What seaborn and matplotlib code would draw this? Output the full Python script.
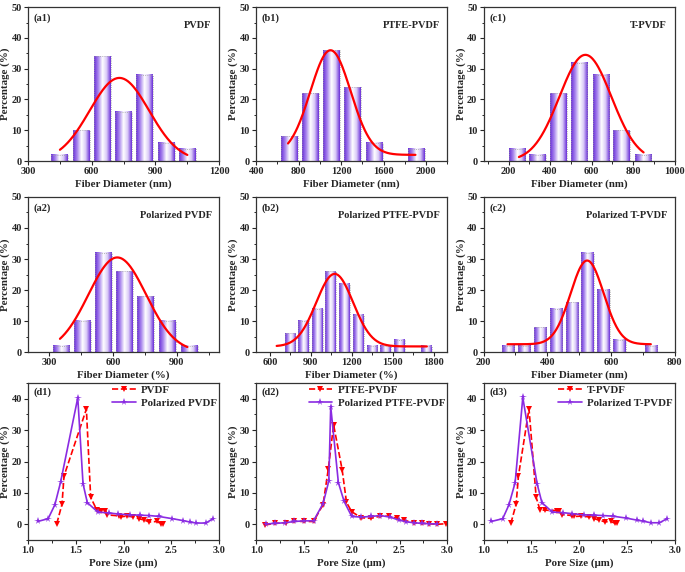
import numpy as np
import pandas as pd
import matplotlib
matplotlib.use("Agg")
import matplotlib.pyplot as plt
from matplotlib.colors import LinearSegmentedColormap
from matplotlib.ticker import AutoMinorLocator
import seaborn as sns

# ---- fiber diameter histograms (bin centre, percentage) ----
a1_x = [450, 550, 650, 750, 850, 950, 1050]
a1_y = [2, 10, 34, 16, 28, 6, 4]
b1_x = [710, 910, 1110, 1310, 1510, 1910]
b1_y = [8, 22, 36, 24, 6, 4]
c1_x = [240, 340, 440, 540, 645, 745, 848]
c1_y = [4, 2, 22, 32, 28, 10, 2]
a2_x = [355, 455, 555, 655, 755, 855, 960]
a2_y = [2, 10, 32, 26, 18, 10, 2]
b2_x = [748, 847, 947, 1047, 1148, 1247, 1348, 1448, 1548, 1748]
b2_y = [6, 10, 14, 26, 22, 12, 2, 2, 4, 2]
c2_x = [277, 327, 377, 427, 477, 526, 576, 626, 726]
c2_y = [2, 2, 8, 14, 16, 32, 20, 4, 2]

# gauss fit: (mu, sigma, amplitude, offset, x start, x end)
a1_fit = (730, 140, 27, 0, 450, 1050)
b1_fit = (1100, 190, 34, 2, 700, 1900)
c1_fit = (570, 125, 34.5, 0, 250, 850)
a2_fit = (620, 136, 30.5, 0, 350, 950)
b2_fit = (1075, 135, 23.4, 1.8, 650, 1750)
c2_fit = (525, 52, 27, 2.5, 275, 725)

# ---- pore size distributions ----
d1_red_x = [1.30, 1.355, 1.376, 1.61, 1.655, 1.72, 1.76, 1.81, 1.83, 1.95, 1.97, 2.03, 2.10, 2.16, 2.21, 2.27, 2.35, 2.39, 2.41]
d1_red_y = [0.2, 6.4, 15.4, 36.7, 8.6, 4.5, 4.4, 4.4, 3.0, 2.7, 2.4, 2.6, 2.4, 1.8, 1.4, 0.75, 0.9, 0.2, 0.2]
d1_pur_x = [1.10, 1.21, 1.28, 1.34, 1.52, 1.575, 1.62, 1.73, 1.85, 1.94, 2.07, 2.17, 2.27, 2.37, 2.51, 2.62, 2.69, 2.76, 2.86, 2.93]
d1_pur_y = [0.9, 1.8, 6.2, 13.4, 40.3, 12.9, 6.9, 3.9, 3.6, 3.3, 3.0, 2.9, 2.8, 2.5, 1.8, 1.2, 0.75, 0.4, 0.4, 1.7]

d2_red_x = [1.09, 1.20, 1.31, 1.40, 1.50, 1.60, 1.70, 1.755, 1.81, 1.90, 1.945, 2.0, 2.10, 2.20, 2.30, 2.39, 2.47, 2.55, 2.65, 2.73, 2.81, 2.89, 2.99]
d2_red_y = [-0.2, 0.3, 0.5, 1.0, 0.9, 0.9, 6.3, 17.7, 31.7, 17.3, 7.0, 4.0, 2.1, 1.9, 2.6, 2.6, 1.9, 1.3, 0.5, 0.3, 0.2, 0.0, 0.2]
d2_pur_x = [1.10, 1.20, 1.30, 1.40, 1.50, 1.60, 1.70, 1.76, 1.78, 1.86, 1.92, 2.0, 2.10, 2.20, 2.30, 2.40, 2.49, 2.57, 2.65, 2.73, 2.81, 2.89]
d2_pur_y = [0.1, 0.3, 0.5, 0.9, 1.1, 1.1, 6.6, 13.8, 37.5, 13.3, 7.3, 2.5, 2.3, 2.5, 2.8, 2.3, 1.4, 0.8, 0.5, 0.3, 0.2, 0.1]

d3_red_x = [1.285, 1.34, 1.365, 1.475, 1.55, 1.59, 1.64, 1.77, 1.79, 1.82, 1.93, 1.95, 2.02, 2.10, 2.16, 2.21, 2.27, 2.33, 2.38, 2.40]
d3_red_y = [0.3, 6.4, 15.5, 36.8, 8.6, 4.6, 4.5, 4.4, 4.3, 3.1, 2.8, 2.5, 2.6, 2.4, 1.8, 1.3, 0.8, 0.9, 0.3, 0.3]
d3_pur_x = [1.08, 1.20, 1.265, 1.33, 1.41, 1.56, 1.61, 1.72, 1.83, 1.93, 2.05, 2.16, 2.25, 2.35, 2.49, 2.61, 2.67, 2.75, 2.84, 2.92]
d3_pur_y = [0.9, 1.8, 6.2, 13.3, 40.4, 12.9, 6.9, 3.9, 3.7, 3.4, 3.0, 2.9, 2.8, 2.6, 2.0, 1.3, 1.0, 0.5, 0.5, 1.8]

sns.set_style("ticks")
plt.rcParams["font.family"] = ["Liberation Serif", "DejaVu Serif"]
plt.rcParams["font.weight"] = "bold"
plt.rcParams["axes.labelweight"] = "bold"
plt.rcParams["axes.edgecolor"] = "#333333"
plt.rcParams["xtick.direction"] = "out"
plt.rcParams["ytick.direction"] = "out"

RED = "#FF0000"
PURPLE = "#8A2BE2"
bar_cmap = LinearSegmentedColormap.from_list(
    "bar", ["#6A2FD8", "#A987EE", "#FFFFFF", "#D9C9F8", "#6A2FD8"])
grad = np.tile(np.linspace(0, 1, 64), (4, 1))

fig = plt.figure(figsize=(6.85, 5.72), dpi=100)

cols = [0.041, 0.374, 0.706]
width = 0.279
rows = [(0.7185, 0.269), (0.3846, 0.271), (0.0559, 0.2745)]

LAB = 7.8
TCK = 7.5


def style_axes(ax):
    for s in ax.spines.values():
        s.set_linewidth(0.9)
        s.set_visible(True)
    ax.xaxis.set_minor_locator(AutoMinorLocator(2))
    ax.yaxis.set_minor_locator(AutoMinorLocator(2))
    ax.tick_params(labelsize=TCK, length=3, width=0.8, pad=1.5)
    ax.tick_params(which="minor", length=1.8, width=0.7)
    ax.set_ylabel("Percentage (%)", fontsize=LAB, labelpad=1)


def hist_panel(ax, xs, ys, fit, xlim, xticks, tag, name, xlabel):
    df = pd.DataFrame({"d": xs, "p": ys})
    sns.barplot(data=df, x="d", y="p", native_scale=True, width=0.8,
                errorbar=None, ax=ax, color=PURPLE)
    for p in list(ax.patches):
        x0, y0 = p.get_x(), p.get_y()
        w, h = p.get_width(), p.get_height()
        ax.imshow(grad, extent=[x0, x0 + w, y0, y0 + h], aspect="auto",
                  cmap=bar_cmap, interpolation="antialiased", zorder=2)
        p.set_facecolor("none")
        p.set_edgecolor("#a0a0a0")
        p.set_linestyle(":")
        p.set_linewidth(0.6)
        p.set_zorder(3)
    mu, sig, amp, off, x0, x1 = fit
    fx = np.linspace(x0, x1, 200)
    fy = off + amp * np.exp(-(fx - mu) ** 2 / (2 * sig ** 2))
    sns.lineplot(x=fx, y=fy, color=RED, linewidth=1.6, ax=ax, zorder=4)
    ax.set_xlim(*xlim)
    ax.set_ylim(0, 50)
    ax.set_xticks(xticks)
    ax.set_yticks([0, 10, 20, 30, 40, 50])
    ax.set_xlabel(xlabel, fontsize=LAB, labelpad=2)
    style_axes(ax)
    ax.text(0.03, 0.96, tag, transform=ax.transAxes, ha="left", va="top",
            fontsize=TCK, fontweight="bold")
    ax.text(0.96, 0.91, name, transform=ax.transAxes, ha="right", va="top",
            fontsize=TCK, fontweight="bold")


def pore_panel(ax, rx, ry, px, py, tag, lab_r, lab_p):
    sns.lineplot(x=rx, y=ry, sort=False, estimator=None, color=RED,
                 linestyle="--", linewidth=1.2, marker="v", markersize=4,
                 markeredgewidth=0, label=lab_r, ax=ax)
    sns.lineplot(x=px, y=py, sort=False, estimator=None, color=PURPLE,
                 linewidth=1.2, marker="*", markersize=5.5,
                 markeredgewidth=0, label=lab_p, ax=ax)
    ax.set_xlim(1.0, 3.0)
    ax.set_ylim(-5, 45)
    ax.set_xticks([1.0, 1.5, 2.0, 2.5, 3.0])
    ax.set_yticks([0, 10, 20, 30, 40])
    ax.set_xlabel("Pore Size (μm)", fontsize=LAB, labelpad=2)
    style_axes(ax)
    ax.text(0.03, 0.97, tag, transform=ax.transAxes, ha="left", va="top",
            fontsize=TCK, fontweight="bold")
    ax.legend(loc="upper right", frameon=False, fontsize=7.8,
              handlelength=2.2, borderaxespad=0.0, labelspacing=0.3,
              handletextpad=0.5, borderpad=0.2)


nm = "Fiber Diameter (nm)"
pc = "Fiber Diameter (%)"

ax = fig.add_axes([cols[0], rows[0][0], width, rows[0][1]])
hist_panel(ax, a1_x, a1_y, a1_fit, (300, 1200), [300, 600, 900, 1200], "(a1)", "PVDF", nm)
ax = fig.add_axes([cols[1], rows[0][0], width, rows[0][1]])
hist_panel(ax, b1_x, b1_y, b1_fit, (400, 2200), [400, 800, 1200, 1600, 2000], "(b1)", "PTFE-PVDF", nm)
ax = fig.add_axes([cols[2], rows[0][0], width, rows[0][1]])
hist_panel(ax, c1_x, c1_y, c1_fit, (80, 1000), [200, 400, 600, 800, 1000], "(c1)", "T-PVDF", nm)

ax = fig.add_axes([cols[0], rows[1][0], width, rows[1][1]])
hist_panel(ax, a2_x, a2_y, a2_fit, (200, 1100), [300, 600, 900], "(a2)", "Polarized PVDF", pc)
ax = fig.add_axes([cols[1], rows[1][0], width, rows[1][1]])
hist_panel(ax, b2_x, b2_y, b2_fit, (500, 1900), [600, 900, 1200, 1500, 1800], "(b2)", "Polarized PTFE-PVDF", pc)
ax = fig.add_axes([cols[2], rows[1][0], width, rows[1][1]])
hist_panel(ax, c2_x, c2_y, c2_fit, (200, 800), [200, 400, 600, 800], "(c2)", "Polarized T-PVDF", nm)

ax = fig.add_axes([cols[0], rows[2][0], width, rows[2][1]])
pore_panel(ax, d1_red_x, d1_red_y, d1_pur_x, d1_pur_y, "(d1)", "PVDF", "Polarized PVDF")
ax = fig.add_axes([cols[1], rows[2][0], width, rows[2][1]])
pore_panel(ax, d2_red_x, d2_red_y, d2_pur_x, d2_pur_y, "(d2)", "PTFE-PVDF", "Polarized PTFE-PVDF")
ax = fig.add_axes([cols[2], rows[2][0], width, rows[2][1]])
pore_panel(ax, d3_red_x, d3_red_y, d3_pur_x, d3_pur_y, "(d3)", "T-PVDF", "Polarized T-PVDF")

fig.savefig("out.png", dpi=100)
